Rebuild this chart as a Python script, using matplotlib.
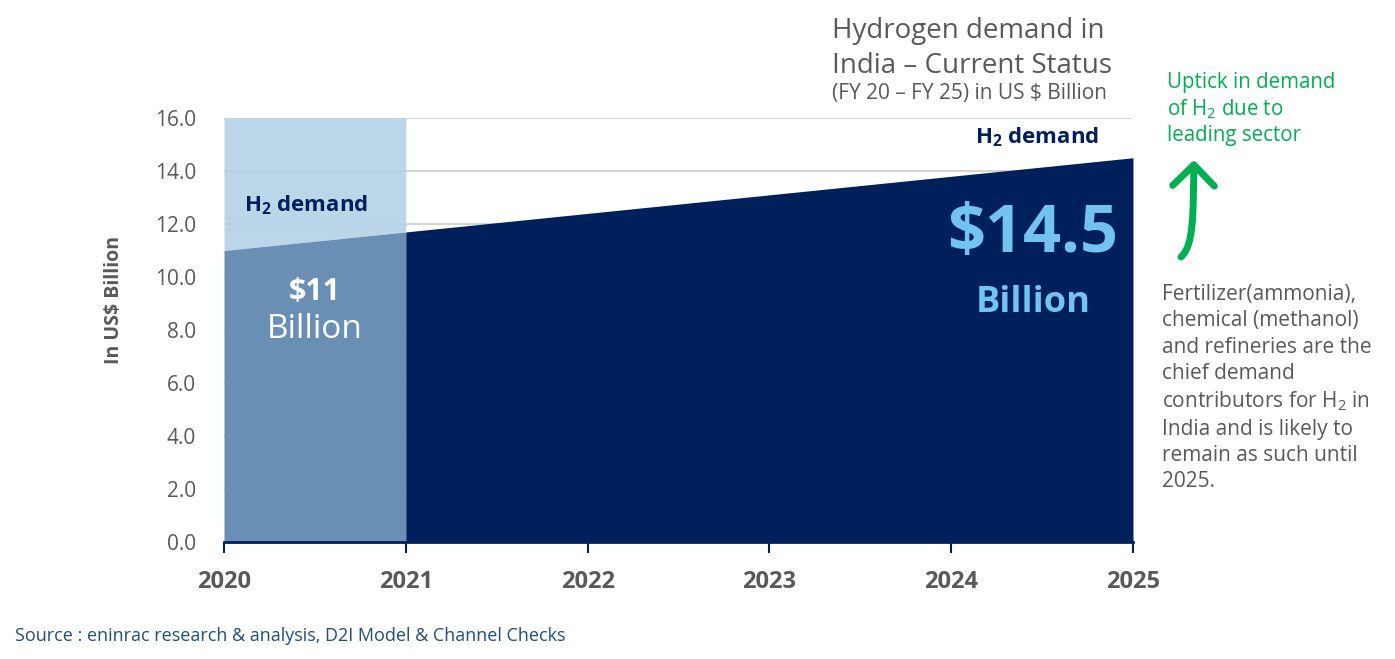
import matplotlib.pyplot as plt
from matplotlib.path import Path
from matplotlib.patches import FancyArrowPatch

# data
years = [2020, 2021, 2022, 2023, 2024, 2025]
demand = [11.0, 11.7, 12.4, 13.1, 13.8, 14.5]
yticks = [0, 2, 4, 6, 8, 10, 12, 14, 16]
y_top = 16

navy = '#00205b'
mid_blue = '#6a8fb5'
light_blue = '#b4d2e6'
sky = '#72c2f2'
grey = '#595959'
green = '#00b050'

plt.rcParams['font.family'] = ['Open Sans', 'DejaVu Sans']
plt.rcParams['mathtext.fontset'] = 'custom'
plt.rcParams['mathtext.rm'] = 'Open Sans'
plt.rcParams['mathtext.bf'] = 'Open Sans:bold'

W, H = 1395, 659
fig = plt.figure(figsize=(W / 100, H / 100), dpi=100)
ax = fig.add_axes([224 / W, 1 - 542 / H, (1133 - 224) / W, (542 - 118) / H])

def fx(px):
    return px / W

def fy(py):
    return 1 - py / H

# grid lines behind everything
for v in yticks[1:]:
    ax.axhline(v, color='#d4d4d4', lw=1.5, zorder=1)

# the 2020-2021 block
ax.fill_between(years[:2], demand[:2], y_top, color=light_blue, alpha=0.9, lw=0, zorder=2)
ax.fill_between(years[:2], 0, demand[:2], color=mid_blue, lw=0, zorder=3)
# 2021-2025 forecast area
ax.fill_between(years[1:], 0, demand[1:], color=navy, lw=0, zorder=3)

ax.set_xlim(years[0], years[-1])
ax.set_ylim(0, y_top)
ax.set_xticks(years)
ax.set_xticklabels([str(y) for y in years], fontsize=17, fontweight='bold', color=grey)
ax.set_yticks(yticks)
ax.set_yticklabels(['%.1f' % v for v in yticks], fontsize=15, color=grey)
ax.tick_params(axis='x', length=8, width=1.5, color=navy, pad=12)
ax.tick_params(axis='y', length=0, pad=20)
for s in ['top', 'right', 'left']:
    ax.spines[s].set_visible(False)
ax.spines['bottom'].set_color(navy)
ax.spines['bottom'].set_linewidth(2)
ax.spines['bottom'].set_zorder(5)

# labels inside the areas
h2 = r'$\mathbf{H_2}$ demand'
ax.text(2020.45, 12.7, h2, fontsize=16, fontweight='bold', color=navy,
        ha='center', va='center', zorder=6)
ax.text(2024.47, 15.28, h2, fontsize=16, fontweight='bold', color=navy,
        ha='center', va='center', zorder=6)
ax.text(2020.5, 9.45, r'\$11', fontsize=22, fontweight='bold', color='white',
        ha='center', va='center', zorder=6)
ax.text(2020.5, 8.0, 'Billion', fontsize=24, color='white',
        ha='center', va='center', zorder=6)
ax.text(2024.45, 11.6, r'\$14.5', fontsize=48, fontweight='bold', color=sky,
        ha='center', va='center', zorder=6)
ax.text(2024.45, 9.0, 'Billion', fontsize=26, fontweight='bold', color=sky,
        ha='center', va='center', zorder=6)

fig.text(fx(114), fy(300), r'In US\$ Billion', rotation=90, fontsize=14,
         fontweight='bold', color=grey, ha='center', va='center')

# title block
fig.text(fx(832), fy(17), 'Hydrogen demand in\nIndia – Current Status', fontsize=20,
         color=grey, ha='left', va='top', linespacing=1.33)
fig.text(fx(832), fy(94), r'(FY 20 – FY 25) in US \$ Billion', fontsize=15,
         color=grey, ha='left', va='center')

# right side notes
fig.text(fx(1167), fy(72), 'Uptick in demand\nof $\\mathrm{H_2}$ due to\nleading sector', fontsize=14.8,
         color=green, ha='left', va='top', linespacing=1.25)
fig.text(fx(1162), fy(284),
         'Fertilizer(ammonia),\nchemical (methanol)\nand refineries are the\nchief demand\n'
         'contributors for $\\mathrm{H_2}$ in\nIndia and is likely to\nremain as such until\n2025.',
         fontsize=15, color=grey, ha='left', va='top', linespacing=1.33)

arrow_path = Path([(fx(1181), fy(257)), (fx(1194), fy(245)), (fx(1193), fy(215)), (fx(1194), fy(160))],
                  [Path.MOVETO, Path.CURVE4, Path.CURVE4, Path.CURVE4])
arrow = FancyArrowPatch(path=arrow_path, arrowstyle='->,head_length=0.6,head_width=0.6',
                        mutation_scale=25, lw=5, color=green, capstyle='round',
                        joinstyle='round', transform=fig.transFigure)
fig.patches.append(arrow)

fig.text(fx(15), fy(636), 'Source : eninrac research & analysis, D2I Model & Channel Checks',
         fontsize=13, color='#1f4e79', ha='left', va='center')

fig.savefig('out.png', dpi=100)
